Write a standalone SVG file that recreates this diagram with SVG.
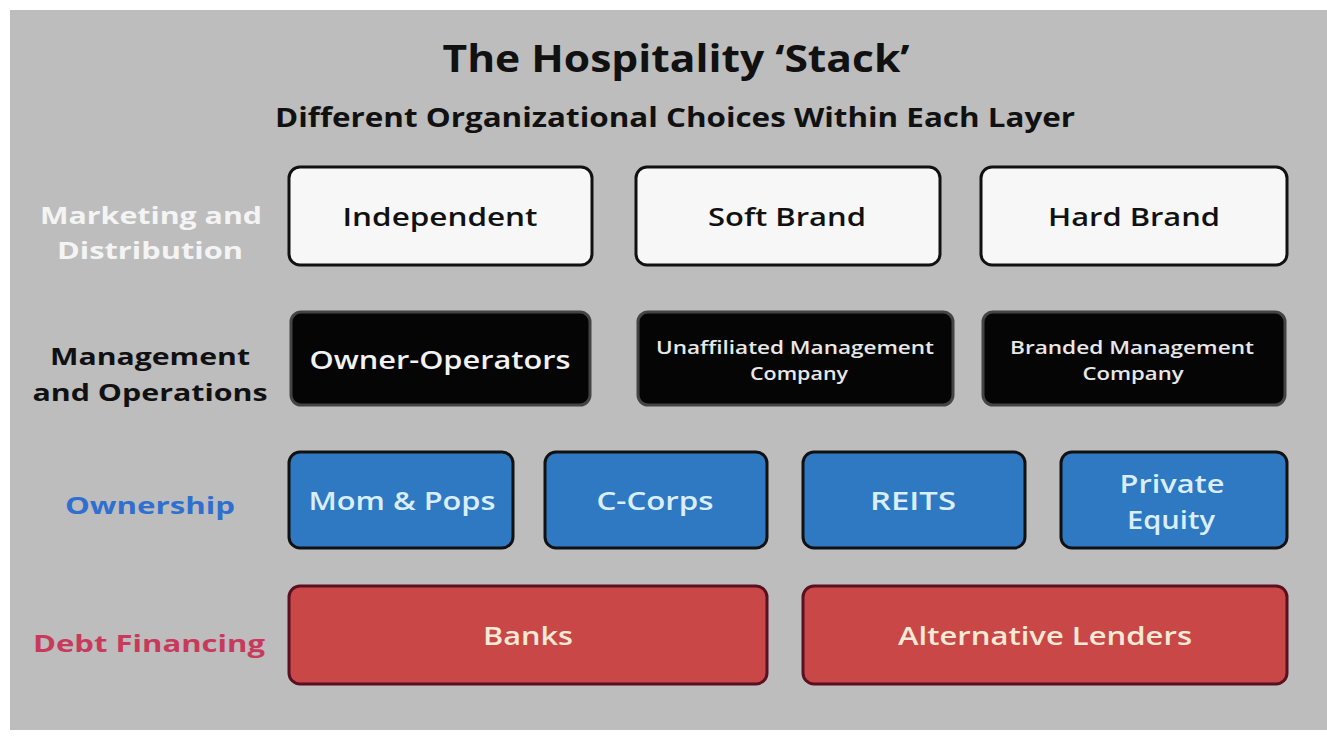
<svg xmlns="http://www.w3.org/2000/svg" width="1327" height="749" viewBox="0 0 1327 749">
<style>
text{font-family:"Open Sans","Liberation Sans",sans-serif;text-anchor:middle}
.title{font-size:37px;font-weight:700;fill:#111}
.sub{font-size:26px;font-weight:700;fill:#111}
.lbl{font-size:24px;font-weight:700}
.box{stroke:#111;stroke-width:3}
.w{fill:#f7f7f7}
.k{fill:#050505;stroke:#444}
.b{fill:#2f78c2}
.r{fill:#c94747;stroke:#5a1020}
.tw{font-size:26px;font-weight:600;fill:#111}
.tk{font-size:26px;font-weight:600;fill:#f2f2f2}
.tks{font-size:18px;font-weight:600;fill:#e8e8e8}
.tb{font-size:25px;font-weight:600;fill:#d9efff}
.tr{font-size:25px;font-weight:600;fill:#f6ead6}
</style>
<rect x="0" y="0" width="1327" height="749" fill="#ffffff"/>
<rect x="10" y="10" width="1317" height="720" fill="#bdbdbd"/>
<g id="header">
<text class="title" x="676" y="72" textLength="467" lengthAdjust="spacingAndGlyphs">The Hospitality ‘Stack’</text>
<text class="sub" x="675" y="127" textLength="800" lengthAdjust="spacingAndGlyphs">Different Organizational Choices Within Each Layer</text>
</g>
<g id="layer-labels">
<text class="lbl" x="151" y="224" fill="#f4f4f4" textLength="222" lengthAdjust="spacingAndGlyphs">Marketing and</text>
<text class="lbl" x="150" y="259" fill="#f4f4f4" textLength="186" lengthAdjust="spacingAndGlyphs">Distribution</text>
<text class="lbl" x="150" y="365" fill="#111" textLength="200" lengthAdjust="spacingAndGlyphs">Management</text>
<text class="lbl" x="150" y="401" fill="#111" textLength="235" lengthAdjust="spacingAndGlyphs">and Operations</text>
<text class="lbl" x="150" y="514" fill="#2f6fd0" textLength="170" lengthAdjust="spacingAndGlyphs">Ownership</text>
<text class="lbl" x="149" y="652" fill="#c83a5c" textLength="232" lengthAdjust="spacingAndGlyphs">Debt Financing</text>
</g>
<g id="independent"><rect class="box w" x="289" y="167" width="303" height="98" rx="11"/><text class="tw" x="440" y="226" textLength="195" lengthAdjust="spacingAndGlyphs">Independent</text></g>
<g id="soft-brand"><rect class="box w" x="636" y="167" width="304" height="98" rx="11"/><text class="tw" x="787" y="226" textLength="158" lengthAdjust="spacingAndGlyphs">Soft Brand</text></g>
<g id="hard-brand"><rect class="box w" x="981" y="167" width="306" height="98" rx="11"/><text class="tw" x="1134" y="226" textLength="172" lengthAdjust="spacingAndGlyphs">Hard Brand</text></g>
<g id="owner-operators"><rect class="box k" x="291" y="312" width="299" height="93" rx="10"/><text class="tk" x="440" y="369" textLength="261" lengthAdjust="spacingAndGlyphs">Owner-Operators</text></g>
<g id="unaffiliated"><rect class="box k" x="638" y="312" width="315" height="93" rx="10"/><text class="tks" x="795" y="354" textLength="278" lengthAdjust="spacingAndGlyphs">Unaffiliated Management</text><text class="tks" x="799" y="380" textLength="98" lengthAdjust="spacingAndGlyphs">Company</text></g>
<g id="branded"><rect class="box k" x="983" y="312" width="302" height="93" rx="10"/><text class="tks" x="1132" y="354" textLength="244" lengthAdjust="spacingAndGlyphs">Branded Management</text><text class="tks" x="1133" y="380" textLength="101" lengthAdjust="spacingAndGlyphs">Company</text></g>
<g id="mom-pops"><rect class="box b" x="289" y="452" width="224" height="96" rx="11"/><text class="tb" x="402" y="510" textLength="187" lengthAdjust="spacingAndGlyphs">Mom &amp; Pops</text></g>
<g id="c-corps"><rect class="box b" x="545" y="452" width="222" height="96" rx="11"/><text class="tb" x="655" y="510" textLength="117" lengthAdjust="spacingAndGlyphs">C-Corps</text></g>
<g id="reits"><rect class="box b" x="803" y="452" width="222" height="96" rx="11"/><text class="tb" x="913" y="510" textLength="86" lengthAdjust="spacingAndGlyphs">REITS</text></g>
<g id="private-equity"><rect class="box b" x="1061" y="452" width="226" height="96" rx="11"/><text class="tb" x="1172" y="493" textLength="105" lengthAdjust="spacingAndGlyphs">Private</text><text class="tb" x="1171" y="529" textLength="88" lengthAdjust="spacingAndGlyphs">Equity</text></g>
<g id="banks"><rect class="box r" x="289" y="586" width="478" height="98" rx="11"/><text class="tr" x="528" y="645" textLength="90" lengthAdjust="spacingAndGlyphs">Banks</text></g>
<g id="alternative-lenders"><rect class="box r" x="803" y="586" width="484" height="98" rx="11"/><text class="tr" x="1045" y="645" textLength="294" lengthAdjust="spacingAndGlyphs">Alternative Lenders</text></g>
<g id="connectors"/>
</svg>
